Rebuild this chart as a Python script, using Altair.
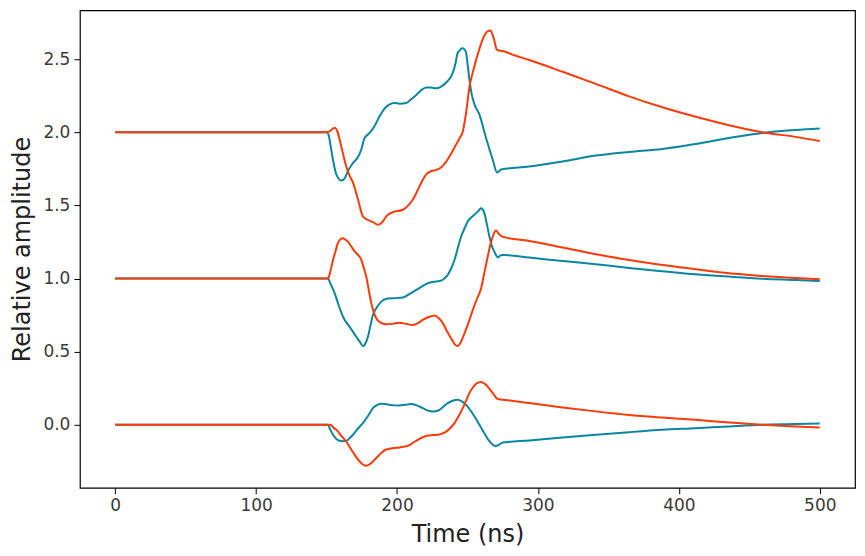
import altair as alt
import pandas as pd

# ---- data ----
t_top_teal = [0, 150, 151.5, 153, 154.6, 157, 160.5, 162.9, 165.2, 168.8, 172.3, 174.6, 177, 180.6, 184, 187.7,
              191, 194.8, 198, 201.8, 206.6, 210, 213.7, 217, 220.7, 224, 227.8, 231, 234.9, 239.4, 241.5, 243,
              245, 246.6, 248, 249, 250.3, 251.4, 253, 255, 258.5, 263.2, 268, 271, 273.9, 293.9, 317.5, 341.1,
              364.7, 388.3, 412, 435.6, 459.1, 482.8, 500]
y_top_teal = [2.0, 2.0, 1.98, 1.90, 1.81, 1.71, 1.67, 1.685, 1.735, 1.79, 1.83, 1.88, 1.96, 1.995, 2.04, 2.11,
              2.16, 2.19, 2.20, 2.195, 2.20, 2.225, 2.255, 2.285, 2.305, 2.305, 2.30, 2.31, 2.34, 2.40, 2.47, 2.54,
              2.565, 2.573, 2.565, 2.545, 2.45, 2.36, 2.26, 2.19, 2.12, 1.96, 1.81, 1.725, 1.745, 1.765, 1.80, 1.84,
              1.865, 1.885, 1.92, 1.96, 1.995, 2.015, 2.025]

t_top_orange = [0, 150, 152, 154, 155.8, 157.5, 159.3, 161.5, 164, 166.5, 168.8, 172.3, 175.8, 179.4, 183, 186.5,
                189.5, 192.4, 195, 198.3, 204.2, 208, 211.3, 215, 218.3, 221, 223, 227, 230.2, 233, 235.8, 238.8,
                241.9, 244.5, 246.7, 248, 249, 250.2, 251.4, 253.8, 256.2, 258.5, 260.8, 262.5, 264.4, 266, 266.8,
                268, 269, 270.5, 271.5, 275, 282, 293.9, 317.5, 341.1, 364.7, 388.3, 412, 435.6, 459.1, 482.8, 500]
y_top_orange = [2.0, 2.0, 2.005, 2.02, 2.03, 2.01, 1.95, 1.86, 1.765, 1.70, 1.655, 1.54, 1.425, 1.40, 1.385, 1.368,
                1.385, 1.425, 1.445, 1.457, 1.47, 1.50, 1.54, 1.61, 1.675, 1.715, 1.728, 1.74, 1.752, 1.775, 1.812,
                1.86, 1.915, 1.96, 2.005, 2.07, 2.13, 2.22, 2.31, 2.41, 2.495, 2.57, 2.635, 2.67, 2.69, 2.695, 2.69,
                2.66, 2.63, 2.57, 2.56, 2.555, 2.53, 2.493, 2.413, 2.33, 2.245, 2.17, 2.105, 2.048, 2.0, 1.968, 1.94]

t_mid_teal = [0, 151, 153, 155.8, 158.5, 161.7, 164, 166.4, 168.8, 171.1, 173.5, 175.8, 177.2, 179.4, 181.2, 182.9,
              185.5, 188.9, 192, 195.9, 200, 204.2, 209, 213.7, 218, 221.9, 226, 230.2, 233, 236, 238.5, 240.8,
              243.2, 245.5, 247.8, 250.2, 253, 256.2, 258.5, 259.7, 261, 262, 263.8, 265.6, 267.4, 269.1, 271.5,
              273.5, 275, 293.9, 317.5, 341.1, 364.7, 388.3, 412, 435.6, 459.1, 482.8, 500]
y_mid_teal = [1.0, 1.0, 0.96, 0.899, 0.82, 0.739, 0.70, 0.67, 0.635, 0.602, 0.57, 0.538, 0.55, 0.602, 0.68, 0.751,
              0.80, 0.842, 0.86, 0.865, 0.866, 0.87, 0.895, 0.922, 0.948, 0.968, 0.978, 0.983, 0.995, 1.025, 1.07,
              1.127, 1.21, 1.287, 1.34, 1.39, 1.42, 1.447, 1.47, 1.481, 1.47, 1.447, 1.37, 1.287, 1.22, 1.184,
              1.145, 1.158, 1.161, 1.143, 1.12, 1.098, 1.072, 1.05, 1.029, 1.013, 0.999, 0.99, 0.983]

t_mid_orange = [0, 151, 153, 154.6, 156.5, 158, 160, 161.7, 163.5, 165.2, 167.5, 170, 172.5, 174.7, 176.5, 178.2,
                180, 181.8, 183.5, 185.3, 188, 192.4, 197, 201.8, 206.5, 211.3, 215, 218.3, 222, 226.6, 229.5,
                232.5, 235.5, 238.4, 241, 243.1, 245, 247.9, 250.8, 253.8, 256.7, 259.7, 262, 264.4, 266.2, 268,
                269.3, 270.3, 271.5, 272.7, 276.2, 293.9, 317.5, 341.1, 364.7, 388.3, 412, 435.6, 459.1, 482.8, 500]
y_mid_orange = [1.0, 1.0, 1.06, 1.127, 1.19, 1.24, 1.27, 1.276, 1.265, 1.252, 1.22, 1.185, 1.16, 1.127, 1.07, 1.013,
                0.92, 0.83, 0.77, 0.728, 0.70, 0.687, 0.69, 0.698, 0.69, 0.682, 0.695, 0.717, 0.735, 0.747, 0.73,
                0.695, 0.64, 0.591, 0.55, 0.538, 0.56, 0.625, 0.70, 0.785, 0.86, 0.933, 1.04, 1.15, 1.23, 1.287,
                1.32, 1.328, 1.315, 1.30, 1.283, 1.257, 1.212, 1.166, 1.127, 1.093, 1.064, 1.036, 1.018, 1.004, 0.995]

t_bot_teal = [0, 151, 152.5, 154.6, 157, 159.3, 161.5, 164, 166.5, 168.8, 172.3, 175.8, 179.4, 182.9, 186, 188.9,
              191.5, 194.8, 198, 201.8, 206, 210.1, 214, 218.3, 222, 225.4, 228, 230.2, 233, 236, 239.5, 243.1,
              246, 249, 252, 255, 258.5, 262, 265, 266.8, 268.5, 270.3, 272.5, 275, 293.9, 317.5, 341.1, 364.7,
              388.3, 412, 435.6, 459.1, 482.8, 500]
y_bot_teal = [0.0, 0.0, -0.03, -0.068, -0.097, -0.109, -0.112, -0.109, -0.09, -0.068, -0.025, 0.012, 0.06, 0.114,
              0.137, 0.144, 0.142, 0.137, 0.133, 0.132, 0.137, 0.142, 0.133, 0.114, 0.097, 0.091, 0.095, 0.103,
              0.125, 0.148, 0.165, 0.171, 0.16, 0.137, 0.10, 0.057, 0.0, -0.057, -0.105, -0.125, -0.14, -0.144,
              -0.135, -0.121, -0.107, -0.087, -0.068, -0.05, -0.034, -0.023, -0.011, 0.0, 0.005, 0.009]

t_bot_orange = [0, 152.7, 155, 157, 160.5, 164, 167, 170, 172.5, 174.7, 176.5, 178.2, 180.5, 182.9, 186, 188.9,
                191.5, 194.8, 198, 201.8, 204.5, 207.7, 211, 214.8, 218.3, 221.9, 225.5, 229, 232, 234.9, 238,
                240.8, 243.8, 246.7, 249, 251.4, 253.8, 256.2, 258, 259.7, 261.5, 263.2, 265.6, 268, 270, 271.5,
                275, 293.9, 317.5, 341.1, 364.7, 388.3, 412, 435.6, 459.1, 482.8, 500]
y_bot_orange = [0.0, 0.0, -0.02, -0.034, -0.075, -0.114, -0.16, -0.205, -0.24, -0.262, -0.275, -0.279, -0.27,
                -0.251, -0.22, -0.193, -0.172, -0.164, -0.158, -0.155, -0.15, -0.144, -0.125, -0.102, -0.085,
                -0.073, -0.07, -0.068, -0.06, -0.046, -0.02, 0.012, 0.06, 0.114, 0.165, 0.217, 0.255, 0.281, 0.29,
                0.292, 0.285, 0.274, 0.245, 0.217, 0.19, 0.176, 0.172, 0.149, 0.119, 0.092, 0.068, 0.05, 0.034,
                0.016, 0.0, -0.012, -0.018]

x_ticks = [0, 100, 200, 300, 400, 500]
y_ticks = [0.0, 0.5, 1.0, 1.5, 2.0, 2.5]

TEAL = "#0a86a1"
ORANGE = "#fb3a07"


def frame(ts, ys, name):
    return pd.DataFrame({"t": ts, "y": ys, "series": name})


teal_df = pd.concat([frame(t_bot_teal, y_bot_teal, "bot"),
                     frame(t_mid_teal, y_mid_teal, "mid"),
                     frame(t_top_teal, y_top_teal, "top")], ignore_index=True)
orange_df = pd.concat([frame(t_bot_orange, y_bot_orange, "bot"),
                       frame(t_mid_orange, y_mid_orange, "mid"),
                       frame(t_top_orange, y_top_orange, "top")], ignore_index=True)

x_enc = alt.X("t:Q", title="Time (ns)",
              scale=alt.Scale(domain=[-25, 525], nice=False, zero=False),
              axis=alt.Axis(values=x_ticks, format="d", titleY=54, titleBaseline="alphabetic"))
y_enc = alt.Y("y:Q", title="Relative amplitude",
              scale=alt.Scale(domain=[-0.43, 2.833], nice=False, zero=False),
              axis=alt.Axis(values=y_ticks, format=".1f", titleX=-50, titleBaseline="alphabetic"))


def layer(df, color):
    return alt.Chart(df).mark_line(color=color, strokeWidth=2, interpolate="monotone").encode(
        x=x_enc, y=y_enc, detail="series:N", order="t:Q")


chart = alt.layer(layer(teal_df, TEAL), layer(orange_df, ORANGE)).properties(
    width=776, height=478,
    autosize=alt.AutoSizeParams(type="none"),
    padding={"left": 72, "top": 2, "right": 2, "bottom": 60},
    background="white",
).configure_view(
    stroke="black", strokeWidth=1.2
).configure_axis(
    grid=False, domain=False, tickColor="black", tickSize=6, tickWidth=1,
    labelFont="DejaVu Sans", labelFontSize=17, labelColor="#3a3a3a", labelPadding=4,
    titleFont="DejaVu Sans", titleFontSize=24, titleFontWeight="normal", titleColor="#222222",
)

chart.save("out.html", embed_options={"renderer": "svg", "actions": False})
